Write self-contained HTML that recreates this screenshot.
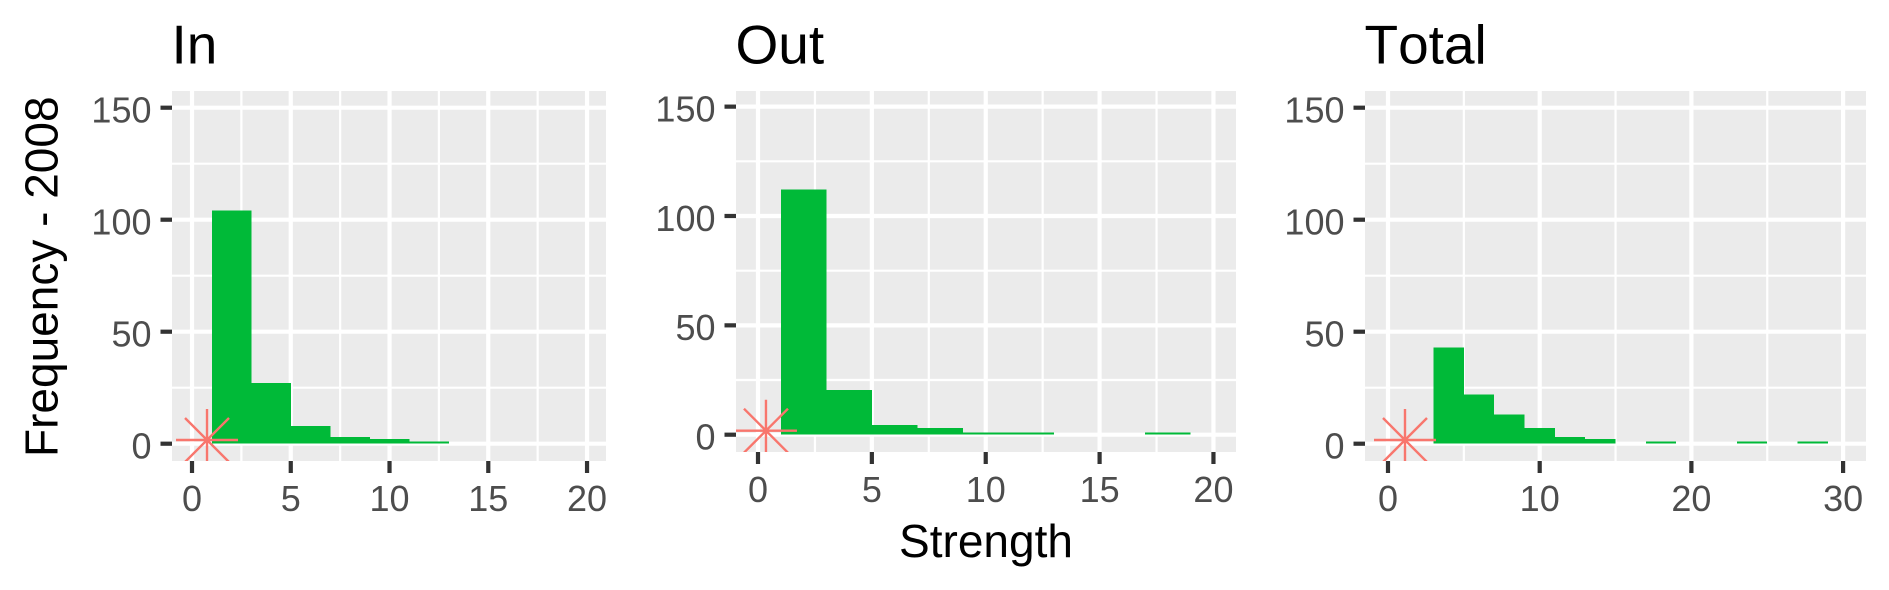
<!DOCTYPE html>
<html lang="en">
<head>
<meta charset="utf-8">
<title>Strength histograms 2008</title>
<style>
html,body{margin:0;padding:0;background:#fff;width:1889px;height:590px;overflow:hidden}
svg{display:block}
text{font-family:"Liberation Sans",Arial,sans-serif;font-kerning:none}
</style>
</head>
<body>
<svg id="chart" xmlns="http://www.w3.org/2000/svg" width="1889" height="590" viewBox="0 0 1889 590">
  <text transform="translate(57.3 457) rotate(-90)" font-size="46" fill="#000">Frequency - 2008</text>
  <text x="986" y="557" text-anchor="middle" font-size="46" fill="#000">Strength</text>
</svg>
<script>
// ---- data ----
const yTickValues = [0, 50, 100, 150];

const inBinStarts = [1, 3, 5, 7, 9, 11];
const inCounts = [104, 27, 8, 3, 2, 1];
const inXTicks = [0, 5, 10, 15, 20];
const inStar = [0.76, 1.65];

const outBinStarts = [1, 3, 5, 7, 9, 11, 13, 15, 17];
const outCounts = [112, 20.5, 4.5, 3, 1, 1, 0, 0, 1];
const outXTicks = [0, 5, 10, 15, 20];
const outStar = [0.35, 1.83];

const totalBinStarts = [3, 5, 7, 9, 11, 13, 15, 17, 19, 21, 23, 25, 27];
const totalCounts = [43, 22, 13, 7, 3, 2, 0, 1, 0, 0, 1, 0, 1];
const totalXTicks = [0, 10, 20, 30];
const totalStar = [1.12, 1.65];

const binWidth = 2;

// ---- drawing ----
const NS = 'http://www.w3.org/2000/svg';
const svg = document.getElementById('chart');

function make(tag, parent, attrs, txt) {
  const el = document.createElementNS(NS, tag);
  for (const k in attrs) el.setAttribute(k, attrs[k]);
  if (txt !== undefined) el.textContent = txt;
  parent.appendChild(el);
  return el;
}

function drawPanel(key, title, box, xDomain, yDomain, xTicks, binStarts, counts, star) {
  const xs = v => box.left + (v - xDomain[0]) / (xDomain[1] - xDomain[0]) * (box.right - box.left);
  const ys = v => box.bottom - (v - yDomain[0]) / (yDomain[1] - yDomain[0]) * (box.bottom - box.top);

  const g = make('g', svg, {});
  
  

  const clip = make('clipPath', g, { id: 'clip-' + key });
  make('rect', clip, { x: box.left, y: box.top, width: box.right - box.left, height: box.bottom - box.top });

  const titleEl = make('text', g, { x: box.left - 0.5, y: 63.3, 'font-size': 55, fill: '#000' }, title);
  
  

  const bg = make('rect', g, { x: box.left, y: box.top, width: box.right - box.left, height: box.bottom - box.top, fill: '#EBEBEB' });
  
  

  // minor gridlines
  for (let i = 0; i + 1 < yTickValues.length; i++) {
    const y = ys((yTickValues[i] + yTickValues[i + 1]) / 2);
    const l = make('line', g, { x1: box.left, x2: box.right, y1: y, y2: y, stroke: '#fff', 'stroke-width': 2.2 });
    
    
  }
  for (let i = 0; i + 1 < xTicks.length; i++) {
    const x = xs((xTicks[i] + xTicks[i + 1]) / 2);
    const l = make('line', g, { x1: x, x2: x, y1: box.top, y2: box.bottom, stroke: '#fff', 'stroke-width': 2.2 });
    
    
  }
  // major gridlines, ticks, tick labels
  yTickValues.forEach(v => {
    const y = ys(v);
    const l = make('line', g, { x1: box.left, x2: box.right, y1: y, y2: y, stroke: '#fff', 'stroke-width': 4.2 });
    
    
    const t = make('line', g, { x1: box.left - 11.5, x2: box.left, y1: y, y2: y, stroke: '#333', 'stroke-width': 4.2 });
    
    
    const lab = make('text', g, { x: box.left - 20.5, y: y + 14.8, 'text-anchor': 'end', 'font-size': 36, fill: '#4D4D4D' }, String(v));
    
    
  });
  xTicks.forEach(v => {
    const x = xs(v);
    const l = make('line', g, { x1: x, x2: x, y1: box.top, y2: box.bottom, stroke: '#fff', 'stroke-width': 4.2 });
    
    
    const t = make('line', g, { x1: x, x2: x, y1: box.bottom, y2: box.bottom + 12, stroke: '#333', 'stroke-width': 4.2 });
    
    
    const lab = make('text', g, { x: x, y: box.bottom + 50, 'text-anchor': 'middle', 'font-size': 36, fill: '#4D4D4D' }, String(v));
    
    
  });

  // histogram bars
  binStarts.forEach((start, i) => {
    if (!counts[i]) return;
    const x0 = xs(start), x1 = xs(start + binWidth), y1 = ys(counts[i]), y0 = ys(0);
    const r = make('rect', g, { x: x0, y: y1, width: x1 - x0, height: y0 - y1, fill: '#00BA38', 'shape-rendering': 'crispEdges' });
    
    
  });

  // asterisk marker (clipped to the panel)
  const cx = xs(star[0]), cy = ys(star[1]);
  const armLong = 31, armDiag = 22;
  const mark = make('path', g, {
    d: 'M' + (cx - armLong) + ' ' + cy + 'H' + (cx + armLong) +
       'M' + cx + ' ' + (cy - armLong) + 'V' + (cy + armLong) +
       'M' + (cx - armDiag) + ' ' + (cy - armDiag) + 'L' + (cx + armDiag) + ' ' + (cy + armDiag) +
       'M' + (cx - armDiag) + ' ' + (cy + armDiag) + 'L' + (cx + armDiag) + ' ' + (cy - armDiag),
    fill: 'none', stroke: '#F8766D', 'stroke-width': 2.4, 'clip-path': 'url(#clip-' + key + ')'
  });
  
  
}

drawPanel('in', 'In', { left: 172, right: 606, top: 91, bottom: 461 },
  [-1.013, 20.96], [-7.72, 157.46], inXTicks, inBinStarts, inCounts, inStar);
drawPanel('out', 'Out', { left: 736, right: 1236, top: 91, bottom: 452 },
  [-0.966, 20.99], [-7.91, 157.15], outXTicks, outBinStarts, outCounts, outStar);
drawPanel('total', 'Total', { left: 1365, right: 1866, top: 91, bottom: 461 },
  [-1.516, 31.51], [-7.72, 157.46], totalXTicks, totalBinStarts, totalCounts, totalStar);
</script>
</body>
</html>
